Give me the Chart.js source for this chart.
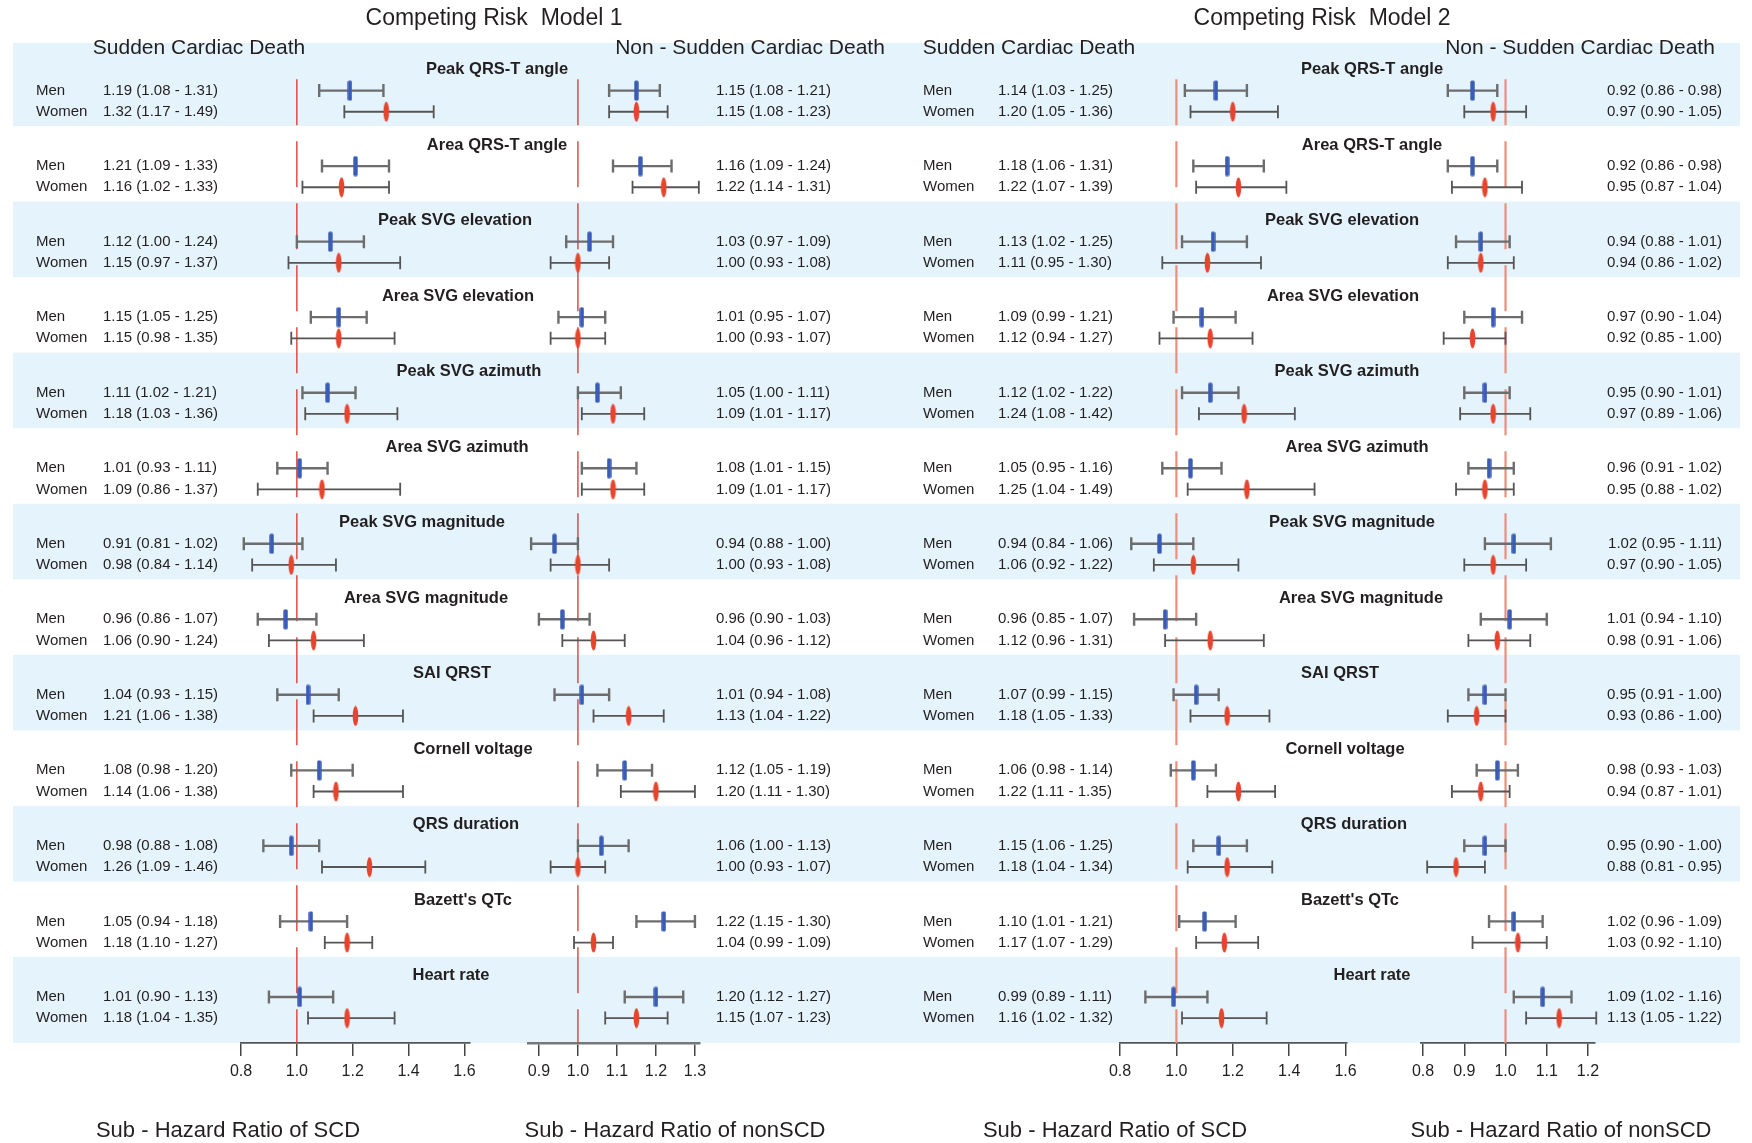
<!DOCTYPE html>
<html><head><meta charset="utf-8">
<script src="https://cdn.jsdelivr.net/npm/chart.js@4.4.1/dist/chart.umd.min.js"></script>
<style>
html,body{margin:0;padding:0;background:#fff;}
#wrap{position:relative;width:1752px;height:1143px;overflow:hidden;}
#wrap canvas{position:absolute;left:0;top:0;}
</style>
</head><body>
<div id="wrap">
<canvas id="c0" width="1752" height="1143"></canvas>
<canvas id="c1" width="1752" height="1143"></canvas>
<canvas id="c2" width="1752" height="1143"></canvas>
<canvas id="c3" width="1752" height="1143"></canvas>
</div>
<script>
// ---------- DATA ----------
const variables = ["Peak QRS-T angle","Area QRS-T angle","Peak SVG elevation","Area SVG elevation","Peak SVG azimuth","Area SVG azimuth","Peak SVG magnitude","Area SVG magnitude","SAI QRST","Cornell voltage","QRS duration","Bazett's QTc","Heart rate"];
const sexLabels = ["Men","Women"];
const modelTitles = ["Competing Risk  Model 1","Competing Risk  Model 2"];
const panelHeaders = ["Sudden Cardiac Death","Non - Sudden Cardiac Death"];
const axisTitles = ["Sub - Hazard Ratio of SCD","Sub - Hazard Ratio of nonSCD"];

// [estimate, lower, upper]
const model1ScdMen = [[1.19,1.08,1.31],[1.21,1.09,1.33],[1.12,1.00,1.24],[1.15,1.05,1.25],[1.11,1.02,1.21],[1.01,0.93,1.11],[0.91,0.81,1.02],[0.96,0.86,1.07],[1.04,0.93,1.15],[1.08,0.98,1.20],[0.98,0.88,1.08],[1.05,0.94,1.18],[1.01,0.90,1.13]];
const model1ScdWomen = [[1.32,1.17,1.49],[1.16,1.02,1.33],[1.15,0.97,1.37],[1.15,0.98,1.35],[1.18,1.03,1.36],[1.09,0.86,1.37],[0.98,0.84,1.14],[1.06,0.90,1.24],[1.21,1.06,1.38],[1.14,1.06,1.38],[1.26,1.09,1.46],[1.18,1.10,1.27],[1.18,1.04,1.35]];
const model1NonMen = [[1.15,1.08,1.21],[1.16,1.09,1.24],[1.03,0.97,1.09],[1.01,0.95,1.07],[1.05,1.00,1.11],[1.08,1.01,1.15],[0.94,0.88,1.00],[0.96,0.90,1.03],[1.01,0.94,1.08],[1.12,1.05,1.19],[1.06,1.00,1.13],[1.22,1.15,1.30],[1.20,1.12,1.27]];
const model1NonWomen = [[1.15,1.08,1.23],[1.22,1.14,1.31],[1.00,0.93,1.08],[1.00,0.93,1.07],[1.09,1.01,1.17],[1.09,1.01,1.17],[1.00,0.93,1.08],[1.04,0.96,1.12],[1.13,1.04,1.22],[1.20,1.11,1.30],[1.00,0.93,1.07],[1.04,0.99,1.09],[1.15,1.07,1.23]];
const model2ScdMen = [[1.14,1.03,1.25],[1.18,1.06,1.31],[1.13,1.02,1.25],[1.09,0.99,1.21],[1.12,1.02,1.22],[1.05,0.95,1.16],[0.94,0.84,1.06],[0.96,0.85,1.07],[1.07,0.99,1.15],[1.06,0.98,1.14],[1.15,1.06,1.25],[1.10,1.01,1.21],[0.99,0.89,1.11]];
const model2ScdWomen = [[1.20,1.05,1.36],[1.22,1.07,1.39],[1.11,0.95,1.30],[1.12,0.94,1.27],[1.24,1.08,1.42],[1.25,1.04,1.49],[1.06,0.92,1.22],[1.12,0.96,1.31],[1.18,1.05,1.33],[1.22,1.11,1.35],[1.18,1.04,1.34],[1.17,1.07,1.29],[1.16,1.02,1.32]];
const model2NonMen = [[0.92,0.86,0.98],[0.92,0.86,0.98],[0.94,0.88,1.01],[0.97,0.90,1.04],[0.95,0.90,1.01],[0.96,0.91,1.02],[1.02,0.95,1.11],[1.01,0.94,1.10],[0.95,0.91,1.00],[0.98,0.93,1.03],[0.95,0.90,1.00],[1.02,0.96,1.09],[1.09,1.02,1.16]];
const model2NonWomen = [[0.97,0.90,1.05],[0.95,0.87,1.04],[0.94,0.86,1.02],[0.92,0.85,1.00],[0.97,0.89,1.06],[0.95,0.88,1.02],[0.97,0.90,1.05],[0.98,0.91,1.06],[0.93,0.86,1.00],[0.94,0.87,1.01],[0.88,0.81,0.95],[1.03,0.92,1.10],[1.13,1.05,1.22]];

const ticksScd1 = [0.8,1.0,1.2,1.4,1.6];
const ticksNon1 = [0.9,1.0,1.1,1.2,1.3];
const ticksScd2 = [0.8,1.0,1.2,1.4,1.6];
const ticksNon2 = [0.8,0.9,1.0,1.1,1.2];
const referenceValue = 1.0;

// ---------- LAYOUT ----------
const W = 1752, H = 1143;
const AREA_TOP = 43, AREA_BOTTOM = 1043;
const Y_MIN = -0.1, Y_MAX = 13.14;
const OFF_LABEL = 0.25, OFF_MEN = 0.53, OFF_WOMEN = 0.81, OFF_REF = 0.38;
const BAND_LEFT = 13, BAND_RIGHT = 1740, BAND_COLOR = '#e4f3fc';
const TEXT = '#231f20';
const FONT = '"Liberation Sans", Arial, sans-serif';
const labelX1 = [497,497,455,458,469,457,422,426,452,473,466,463,451];
const labelX2 = [1372,1372,1342,1343,1347,1357,1352,1361,1340,1345,1354,1350,1372];

function markerImg(kind){
  const c = document.createElement('canvas');
  const ctx = c.getContext('2d');
  if (kind === 'men'){
    c.width = 5; c.height = 21;
    ctx.fillStyle = '#3a5cb6';
    ctx.beginPath();
    if (ctx.roundRect) ctx.roundRect(0.3,0.5,4.4,20,1.5); else ctx.rect(0.3,0.5,4.4,20);
    ctx.fill();
  } else {
    c.width = 7; c.height = 21;
    ctx.fillStyle = '#e8432c';
    ctx.beginPath();
    ctx.ellipse(3.5,10.5,2.8,10,0,0,Math.PI*2);
    ctx.fill();
  }
  return c;
}
const menImg = markerImg('men'), womenImg = markerImg('women');

function fmt(r){ return r[0].toFixed(2) + ' (' + r[1].toFixed(2) + ' - ' + r[2].toFixed(2) + ')'; }

const panels = [
  {id:'c0', left:241, right:470, min:0.8, max:1.62, ticks:ticksScd1, men:model1ScdMen, women:model1ScdWomen,
   refColor:'#d8342b', refWidth:1.3, header:panelHeaders[0], headerX:199, axisTitle:axisTitles[0], axisTitleX:228,
   valueX:103, valueAlign:'left', sexX:36, title:modelTitles[0], titleX:494, labelX:labelX1, bands:true},
  {id:'c1', left:528, right:700, min:0.872, max:1.313, ticks:ticksNon1, men:model1NonMen, women:model1NonWomen,
   refColor:'#d8342b', refWidth:1.3, header:panelHeaders[1], headerX:750, axisTitle:axisTitles[1], axisTitleX:675,
   valueX:716, valueAlign:'left', axisColor:'#777', axisWidth:2.6},
  {id:'c2', left:1120, right:1347, min:0.8, max:1.605, ticks:ticksScd2, men:model2ScdMen, women:model2ScdWomen,
   refColor:'#ec8e7c', refWidth:2.2, header:panelHeaders[0], headerX:1029, axisTitle:axisTitles[0], axisTitleX:1115,
   valueX:998, valueAlign:'left', sexX:923, title:modelTitles[1], titleX:1322, labelX:labelX2},
  {id:'c3', left:1421, right:1595, min:0.795, max:1.217, ticks:ticksNon2, men:model2NonMen, women:model2NonWomen,
   refColor:'#ec8e7c', refWidth:2.2, header:panelHeaders[1], headerX:1580, axisTitle:axisTitles[1], axisTitleX:1561,
   valueX:1722, valueAlign:'right'}
];

function makePanel(p){
  const plugin = {
    id: 'forest_' + p.id,
    beforeDraw(chart){
      if (!p.bands) return;
      const ctx = chart.ctx, ys = chart.scales.y;
      ctx.save();
      ctx.fillStyle = BAND_COLOR;
      for (let i = 0; i < variables.length; i += 2){
        const y0 = ys.getPixelForValue(i === 0 ? Y_MIN : i);
        const y1 = ys.getPixelForValue(i === variables.length - 1 ? Y_MAX : i + 1);
        ctx.fillRect(BAND_LEFT, y0, BAND_RIGHT - BAND_LEFT, y1 - y0);
      }
      ctx.restore();
    },
    beforeDatasetsDraw(chart){
      const ctx = chart.ctx, xs = chart.scales.x, ys = chart.scales.y;
      ctx.save();
      // reference line
      const rx = xs.getPixelForValue(referenceValue);
      ctx.strokeStyle = p.refColor; ctx.lineWidth = p.refWidth;
      ctx.setLineDash([46, 16]);
      ctx.beginPath();
      ctx.moveTo(rx, ys.getPixelForValue(OFF_REF));
      ctx.lineTo(rx, chart.chartArea.bottom);
      ctx.stroke();
      ctx.setLineDash([]);
      // error bars
      const drawCI = (rows, off, color, lw) => {
        ctx.strokeStyle = color; ctx.lineWidth = lw;
        rows.forEach((r, i) => {
          const y = ys.getPixelForValue(i + off);
          const x0 = xs.getPixelForValue(r[1]), x1 = xs.getPixelForValue(r[2]);
          ctx.beginPath();
          ctx.moveTo(x0, y); ctx.lineTo(x1, y);
          ctx.moveTo(x0, y - 6.5); ctx.lineTo(x0, y + 6.5);
          ctx.moveTo(x1, y - 6.5); ctx.lineTo(x1, y + 6.5);
          ctx.stroke();
        });
      };
      drawCI(p.men, OFF_MEN, '#6d6d6d', 2.4);
      drawCI(p.women, OFF_WOMEN, '#555555', 1.8);
      ctx.restore();
    },
    afterDraw(chart){
      const ctx = chart.ctx, ys = chart.scales.y;
      ctx.save();
      ctx.fillStyle = TEXT;
      ctx.textBaseline = 'middle';
      if (p.title){
        ctx.font = '23px ' + FONT; ctx.textAlign = 'center';
        ctx.fillText(p.title, p.titleX, 19);
      }
      ctx.font = '21px ' + FONT; ctx.textAlign = 'center';
      ctx.fillText(p.header, p.headerX, 48);
      ctx.font = '22px ' + FONT; ctx.textAlign = 'center';
      ctx.fillText(p.axisTitle, p.axisTitleX, 1131);
      if (p.labelX){
        ctx.font = 'bold 16.5px ' + FONT; ctx.textAlign = 'center';
        variables.forEach((v, i) => ctx.fillText(v, p.labelX[i], ys.getPixelForValue(i + OFF_LABEL)));
      }
      ctx.font = '15px ' + FONT;
      if (p.sexX !== undefined){
        ctx.textAlign = 'left';
        variables.forEach((v, i) => {
          ctx.fillText(sexLabels[0], p.sexX, ys.getPixelForValue(i + OFF_MEN));
          ctx.fillText(sexLabels[1], p.sexX, ys.getPixelForValue(i + OFF_WOMEN));
        });
      }
      ctx.textAlign = p.valueAlign;
      p.men.forEach((r, i) => ctx.fillText(fmt(r), p.valueX, ys.getPixelForValue(i + OFF_MEN)));
      p.women.forEach((r, i) => ctx.fillText(fmt(r), p.valueX, ys.getPixelForValue(i + OFF_WOMEN)));
      ctx.restore();
    }
  };

  return new Chart(document.getElementById(p.id), {
    type: 'scatter',
    data: {
      datasets: [
        {label: sexLabels[0], data: p.men.map((r, i) => ({x: r[0], y: i + OFF_MEN})),
         pointStyle: menImg, pointRadius: 10, clip: false},
        {label: sexLabels[1], data: p.women.map((r, i) => ({x: r[0], y: i + OFF_WOMEN})),
         pointStyle: womenImg, pointRadius: 10, clip: false}
      ]
    },
    options: {
      responsive: false, animation: false, events: [],
      layout: {padding: {left: p.left, right: W - p.right, top: AREA_TOP, bottom: 0}},
      plugins: {legend: {display: false}, tooltip: {enabled: false}},
      scales: {
        x: {
          type: 'linear', position: 'bottom', min: p.min, max: p.max,
          afterBuildTicks: s => { s.ticks = p.ticks.map(v => ({value: v})); },
          afterFit: s => { s.height = H - AREA_BOTTOM; },
          ticks: {callback: v => Number(v).toFixed(1), autoSkip: false, maxRotation: 0, minRotation: 0,
                  color: TEXT, padding: 6, font: {family: FONT, size: 16}},
          grid: {display: true, drawOnChartArea: false, drawTicks: true, tickLength: 13, color: '#444', lineWidth: 1.5},
          border: {display: true, color: p.axisColor || '#555', width: p.axisWidth || 1.8}
        },
        y: {type: 'linear', display: false, min: Y_MIN, max: Y_MAX, reverse: true}
      }
    },
    plugins: [plugin]
  });
}

panels.forEach(makePanel);
</script>
</body></html>
